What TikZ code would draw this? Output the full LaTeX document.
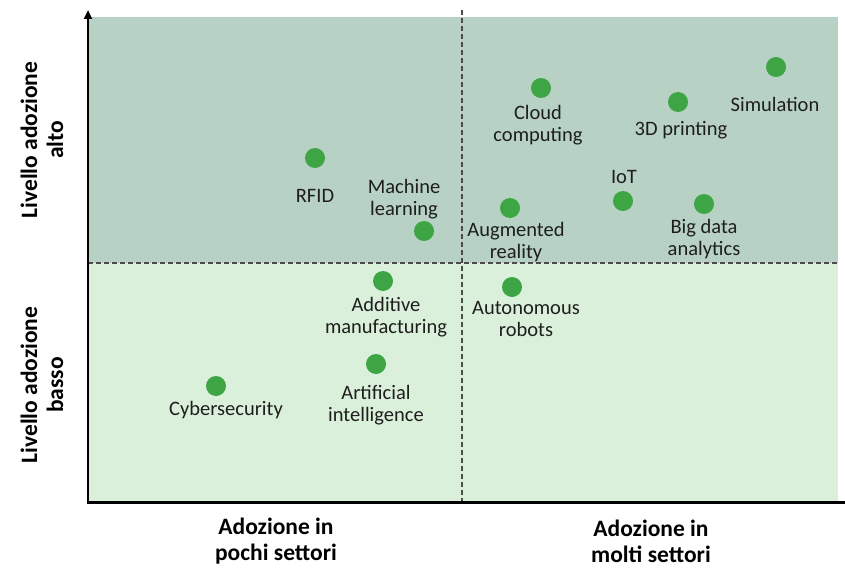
\documentclass[tikz,border=0pt]{standalone}
\usepackage{fontspec}
\setmainfont{Carlito}
\usetikzlibrary{arrows.meta,positioning}
\definecolor{highfill}{HTML}{B7D1C5}
\definecolor{lowfill}{HTML}{DAF0DA}
\definecolor{dotgreen}{HTML}{3DA544}
\definecolor{textgray}{HTML}{1E1E1E}

\begin{document}
\begin{tikzpicture}[x=1pt, y=-1pt, line cap=butt, text=textgray,
   dot/.style={circle, fill=dotgreen, draw=none, minimum size=20pt, inner sep=0pt},
   lbl/.style={align=center, font=\fontsize{20.5}{22}\selectfont, inner sep=0pt},
   axislbl/.style={align=center, font=\fontsize{23.5}{26}\selectfont\bfseries, inner sep=0pt, text=black},
   divider/.style={draw=black!70, line width=1.2pt, dash pattern=on 5pt off 3pt},
   ]
   \useasboundingbox (0,0) rectangle (845,567);

   % quadrants
   \fill[highfill] (88,17) rectangle (838,263);
   \fill[lowfill] (88,263) rectangle (838,501);
   \draw[divider] (88,263) -- (838,263);
   \draw[divider] (462,10) -- (462,501);

   % axes
   \draw[line width=2.5pt, -{Triangle[length=9pt,width=8pt]}] (88,502) -- (88,10);
   \draw[line width=3pt] (86.75,502) -- (845,502);

   % technologies
   \node[dot] (sim) at (776,67) {};
   \node[lbl] (sim_txt) at (775,104) {Simulation};
   \node[dot] (print) at (678,102) {};
   \node[lbl] (print_txt) at (681,130) {3D printing};
   \node[dot] (cloud) at (541,88) {};
   \node[lbl] (cloud_txt) at (538,125) {Cloud\\computing};
   \node[dot] (rfid) at (315,158) {};
   \node[lbl] (rfid_txt) at (315,196) {RFID};
   \node[dot] (ml) at (424,231) {};
   \node[lbl] (ml_txt) at (404,199) {Machine\\learning};
   \node[dot] (iot) at (623,201) {};
   \node[lbl] (iot_txt) at (624,177) {IoT};
   \node[dot] (ar) at (510,208) {};
   \node[lbl] (ar_txt) at (516,242) {Augmented\\reality};
   \node[dot] (bigdata) at (704,204) {};
   \node[lbl] (bigdata_txt) at (704,239) {Big data\\analytics};
   \node[dot] (additive) at (383,281) {};
   \node[lbl] (additive_txt) at (386,317) {Additive\\manufacturing};
   \node[dot] (robots) at (512,287) {};
   \node[lbl] (robots_txt) at (526,319) {Autonomous\\robots};
   \node[dot] (ai) at (376,364) {};
   \node[lbl] (ai_txt) at (376,405) {Artificial\\intelligence};
   \node[dot] (cyber) at (216,386) {};
   \node[lbl] (cyber_txt) at (226,410) {Cybersecurity};

   % axis labels
   \node[axislbl, rotate=90] (high_txt) at (42,140) {Livello adozione\\alto};
   \node[axislbl, rotate=90] (low_txt) at (42,385) {Livello adozione\\basso};
   \node[axislbl] (few_txt) at (276,541) {Adozione in\\pochi settori};
   \node[axislbl] (many_txt) at (651,541) {Adozione in\\molti settori};
\end{tikzpicture}
\end{document}
